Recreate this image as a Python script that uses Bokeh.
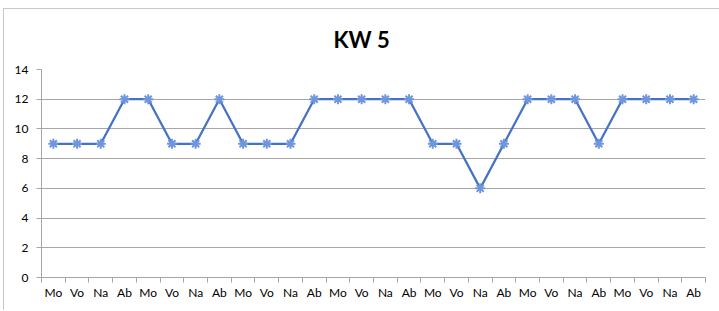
from bokeh.plotting import figure
from bokeh.models import FixedTicker, Range1d
from bokeh.embed import file_html
from bokeh.resources import INLINE

days = ["Mo", "Vo", "Na", "Ab"] * 7
values = [9, 9, 9, 12, 12, 9, 9, 12, 9, 9, 9, 12, 12, 12, 12, 12,
          9, 9, 6, 9, 12, 12, 12, 9, 12, 12, 12, 12]
y_ticks = [0, 2, 4, 6, 8, 10, 12, 14]
title_text = "KW 5"

x = list(range(len(days)))

p = figure(width=716, height=302, output_backend="svg", toolbar_location=None,
           x_range=Range1d(-0.5, len(days) - 0.5), y_range=Range1d(0, 14),
           min_border_left=37, min_border_right=15, min_border_top=60,
           min_border_bottom=34, title=title_text,
           styles={"margin-left": "3px", "margin-top": "8px",
                   "border-left": "1px solid #c8c8c8", "border-top": "1px solid #c8c8c8"})

p.title.align = "left"
p.title.vertical_align = "top"
p.title.text_font = "Lato"
p.title.text_font_size = "22px"
p.title.text_font_style = "bold"
p.title.text_color = "#000000"
p.title.standoff = 30
p.title.offset = 292

p.outline_line_color = None
p.xgrid.grid_line_color = None
p.ygrid.grid_line_color = "#a6a6a6"
p.ygrid.grid_line_width = 1
p.ygrid.ticker = FixedTicker(ticks=y_ticks)

p.yaxis.ticker = FixedTicker(ticks=y_ticks)
p.yaxis.axis_line_color = "#a6a6a6"
p.yaxis.major_tick_line_color = "#a6a6a6"
p.yaxis.major_tick_out = 5
p.yaxis.major_tick_in = 0
p.yaxis.minor_tick_line_color = None
p.yaxis.major_label_standoff = 8
p.yaxis.major_label_text_font = "Lato"
p.yaxis.major_label_text_font_size = "12px"
p.yaxis.major_label_text_color = "#000000"

boundaries = [i - 0.5 for i in range(len(days) + 1)]
p.xaxis.ticker = FixedTicker(ticks=x, minor_ticks=boundaries)
p.xaxis.major_label_overrides = {i: d for i, d in zip(x, days)}
p.xaxis.axis_line_color = "#a6a6a6"
p.xaxis.major_tick_line_color = None
p.xaxis.major_tick_out = 0
p.xaxis.major_tick_in = 0
p.xaxis.minor_tick_line_color = "#a6a6a6"
p.xaxis.minor_tick_out = 5
p.xaxis.minor_tick_in = 0
p.xaxis.major_label_standoff = 2
p.xaxis.major_label_text_font = "Lato"
p.xaxis.major_label_text_font_size = "12px"
p.xaxis.major_label_text_color = "#000000"

p.line(x, values, line_color="#4472C4", line_width=2.25)
p.scatter(x, values, marker="asterisk", size=10, line_color="#6f96dc", line_width=2)

open("out.html", "w").write(file_html(p, INLINE))
